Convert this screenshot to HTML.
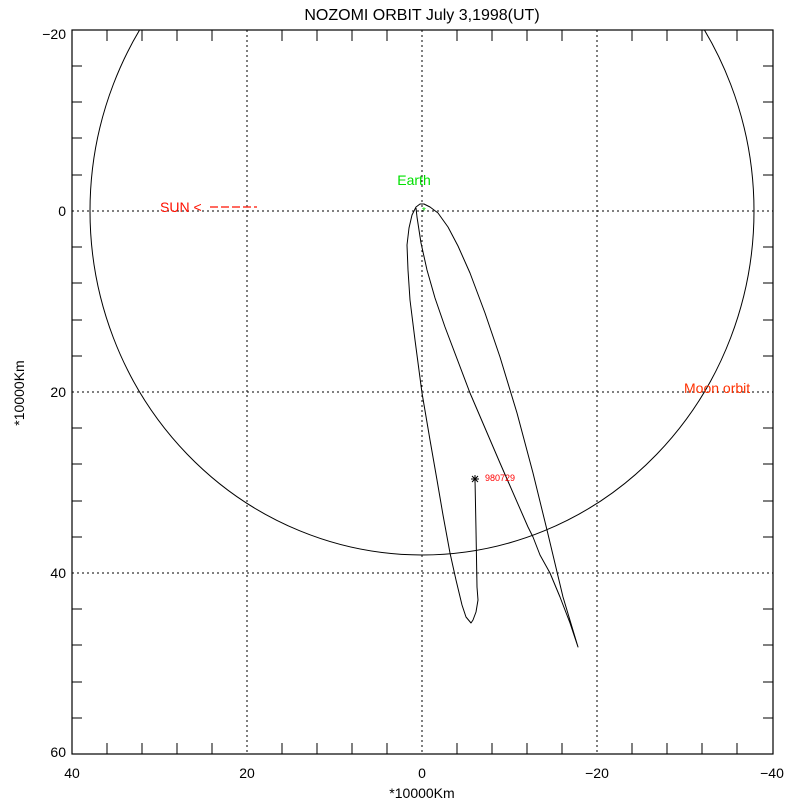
<!DOCTYPE html>
<html><head><meta charset="utf-8"><style>body{margin:0;background:#fff}svg{display:block}text{font-family:"Liberation Sans",sans-serif}</style></head>
<body>
<svg width="800" height="800" viewBox="0 0 800 800">
<defs><clipPath id="c"><rect x="72" y="30" width="701" height="724"/></clipPath></defs>
<rect x="72" y="30" width="701" height="724" fill="none" stroke="#000" stroke-width="1.2"/>
<g stroke="#000" stroke-width="1" stroke-dasharray="2,3">
<line x1="247" y1="30" x2="247" y2="754"/><line x1="422" y1="30" x2="422" y2="754"/><line x1="597" y1="30" x2="597" y2="754"/>
<line x1="72" y1="211" x2="773" y2="211"/><line x1="72" y1="392" x2="773" y2="392"/><line x1="72" y1="573" x2="773" y2="573"/>
</g>
<g stroke="#000" stroke-width="1">
<path d="M107,30v11M142,30v11M177,30v11M212,30v11M282,30v11M317,30v11M352,30v11M387,30v11M457,30v11M492,30v11M527,30v11M562,30v11M632,30v11M667,30v11M702,30v11M737,30v11"/>
<path d="M107,754v-11M142,754v-11M177,754v-11M212,754v-11M282,754v-11M317,754v-11M352,754v-11M387,754v-11M457,754v-11M492,754v-11M527,754v-11M562,754v-11M632,754v-11M667,754v-11M702,754v-11M737,754v-11"/>
<path d="M72,66h10M72,102h10M72,138h10M72,175h10M72,247h10M72,283h10M72,320h10M72,356h10M72,428h10M72,464h10M72,501h10M72,537h10M72,609h10M72,645h10M72,682h10M72,718h10"/>
<path d="M773,66h-10M773,102h-10M773,138h-10M773,175h-10M773,247h-10M773,283h-10M773,320h-10M773,356h-10M773,428h-10M773,464h-10M773,501h-10M773,537h-10M773,609h-10M773,645h-10M773,682h-10M773,718h-10"/>
</g>
<ellipse cx="422" cy="211" rx="332" ry="344" fill="none" stroke="#000" stroke-width="1" clip-path="url(#c)"/>
<path fill="none" stroke="#000" stroke-width="1" stroke-linejoin="round" d="M475,479 L476,530 L477,587 L478,600 L476,612 L473,620 L471,623 L466,617 L462,605 L456,580 L450,553 L443,515 L437,480 L430,440 L422,393 L415,340 L410,300 L408,270 L407,245 L409,228 L412,215 L416,207 L420,204 L424,204 L430,207 L438,213 L448,227 L458,246 L470,273 L485,313 L500,357 L517,413 L533,473 L547,530 L563,597 L578,647 L570,623 L560,597 L550,573 L540,555 L533,537 L528,527 L500,463 L470,393 L445,327 L435,298 L427,270 L421,243 L417,217 L416,208"/>
<path d="M471,479h8M475,475v8M472,476l6,6M478,476l-6,6" stroke="#000" stroke-width="1"/>
<text x="424" y="214" font-size="10" fill="#00e000" text-anchor="middle">*</text>
<text x="422" y="20" font-size="16" text-anchor="middle">NOZOMI ORBIT July 3,1998(UT)</text>
<text x="414" y="185" font-size="14" fill="#00e000" text-anchor="middle">Earth</text>
<text x="160" y="212" font-size="14" fill="#ff1000">SUN &lt;</text>
<line x1="210" y1="207" x2="257" y2="207" stroke="#ff1000" stroke-width="1.2" stroke-dasharray="8,3"/>
<text x="684" y="393" font-size="14" fill="#ff3000">Moon orbit</text>
<text x="485" y="481" font-size="9" fill="#ff0000">980729</text>
<g font-size="14" text-anchor="end">
<text x="66" y="39">−20</text><text x="66" y="216">0</text><text x="66" y="397">20</text><text x="66" y="578">40</text><text x="66" y="757">60</text>
</g>
<g font-size="14" text-anchor="middle">
<text x="72" y="778">40</text><text x="247" y="778">20</text><text x="422" y="778">0</text><text x="597" y="778">−20</text><text x="772" y="778">−40</text>
<text x="422" y="798">*10000Km</text>
</g>
<text x="24" y="393" font-size="14" text-anchor="middle" transform="rotate(-90 24 393)">*10000Km</text>
</svg>
</body></html>
